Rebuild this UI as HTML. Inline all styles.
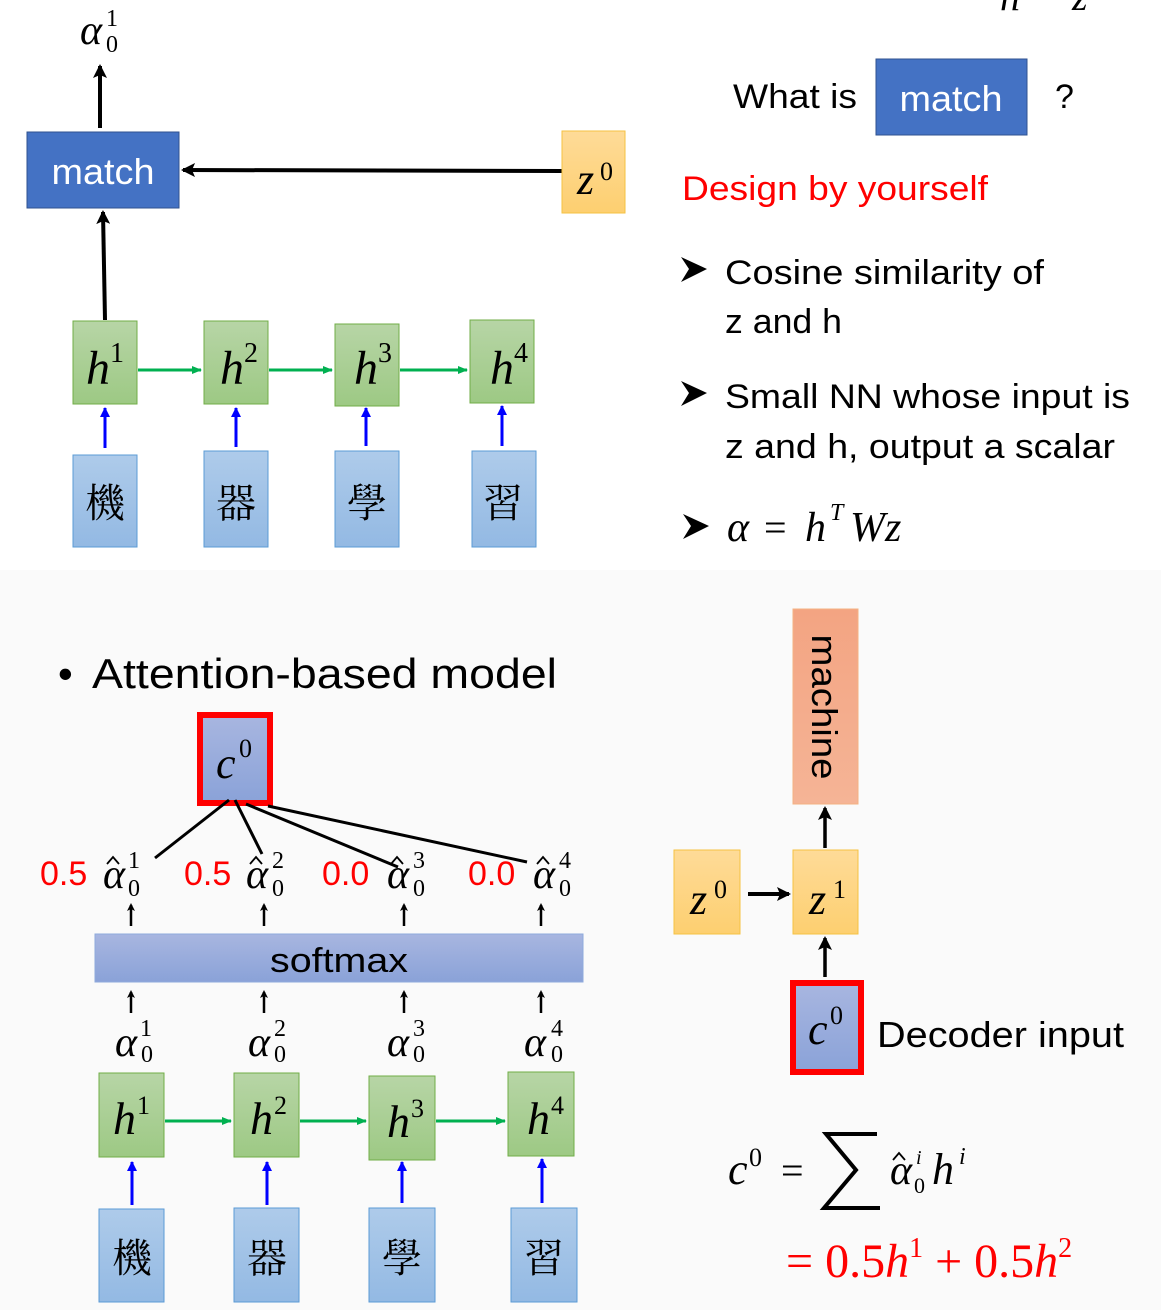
<!DOCTYPE html>
<html><head><meta charset="utf-8"><style>
html,body{margin:0;padding:0;background:#fff}
svg{display:block}
.s{font-family:"Liberation Sans","Noto Sans CJK TC",sans-serif}
.m{font-family:"Liberation Serif","DejaVu Serif",serif;font-style:italic}
.c{font-family:"Liberation Serif","Noto Serif CJK SC","Noto Sans CJK TC",serif}
</style></head><body>
<svg width="1161" height="1310" viewBox="0 0 1161 1310" xmlns="http://www.w3.org/2000/svg">
<defs>
<linearGradient id="g" x1="0" y1="0" x2="0" y2="1"><stop offset="0" stop-color="#b7d5a6"/><stop offset="1" stop-color="#9dc984"/></linearGradient>
<linearGradient id="b" x1="0" y1="0" x2="0" y2="1"><stop offset="0" stop-color="#aecbea"/><stop offset="1" stop-color="#93b9e3"/></linearGradient>
<linearGradient id="y" x1="0" y1="0" x2="0" y2="1"><stop offset="0" stop-color="#fedb98"/><stop offset="1" stop-color="#fdcf70"/></linearGradient>
<linearGradient id="p" x1="0" y1="0" x2="0" y2="1"><stop offset="0" stop-color="#a8b6e0"/><stop offset="1" stop-color="#8aa2d8"/></linearGradient>
<linearGradient id="o" x1="0" y1="0" x2="0" y2="1"><stop offset="0" stop-color="#f3a482"/><stop offset="1" stop-color="#f5b496"/></linearGradient>
<marker id="ak" markerWidth="8" markerHeight="8" refX="6" refY="4" orient="auto" markerUnits="userSpaceOnUse"><path d="M0,0 L8,4 L0,8 L2,4z" fill="#000"/></marker>
<marker id="ak2" markerWidth="14" markerHeight="14" refX="12" refY="7" orient="auto" markerUnits="userSpaceOnUse"><path d="M0,0 L14,7 L0,14 L3,7z" fill="#000"/></marker>
<marker id="ag" markerWidth="10" markerHeight="10" refX="9" refY="5" orient="auto" markerUnits="userSpaceOnUse"><path d="M0,1 L10,5 L0,9z" fill="#00b050"/></marker>
<marker id="ab" markerWidth="10" markerHeight="12" refX="9" refY="5" orient="auto" markerUnits="userSpaceOnUse"><path d="M0,0 L10,5 L0,10z" fill="#0000ff"/></marker>
<path id="bul" d="M0,0 L26,12 L0,25 L8,12z" fill="#000"/>
<path id="hat" d="M0,7 L6,0 L12,7" fill="none" stroke="#000" stroke-width="1.8"/>
</defs>
<rect x="0" y="570" width="1161" height="740" fill="#fafafa"/>

<text class="m" x="80" y="44" font-size="42">α</text><text class="c" x="106" y="26" font-size="24">1</text><text class="c" x="106" y="52" font-size="24">0</text>
<line x1="100" y1="128" x2="100" y2="66" stroke="#000" stroke-width="4" marker-end="url(#ak2)"/>
<rect x="27" y="132" width="152" height="76" fill="#4472c4" stroke="#2f528f"/>
<text class="s" x="103" y="184" font-size="36" fill="#fff" text-anchor="middle" textLength="103" lengthAdjust="spacingAndGlyphs">match</text>
<line x1="562" y1="171" x2="183" y2="170" stroke="#000" stroke-width="4" marker-end="url(#ak2)"/>
<rect x="562" y="131" width="63" height="82" fill="url(#y)" stroke="#f5c242"/>
<text class="m" x="577" y="194" font-size="44">z</text><text class="c" x="600" y="180" font-size="26">0</text>
<line x1="105" y1="320" x2="103" y2="212" stroke="#000" stroke-width="4" marker-end="url(#ak2)"/>

<g>
<rect x="73" y="321" width="64" height="83" fill="url(#g)" stroke="#70ad47"/>
<rect x="204" y="321" width="64" height="83" fill="url(#g)" stroke="#70ad47"/>
<rect x="335" y="324" width="64" height="82" fill="url(#g)" stroke="#70ad47"/>
<rect x="470" y="320" width="64" height="83" fill="url(#g)" stroke="#70ad47"/>
<text class="m" x="86" y="384" font-size="48">h</text><text class="c" x="110" y="362" font-size="28">1</text>
<text class="m" x="220" y="384" font-size="48">h</text><text class="c" x="244" y="362" font-size="28">2</text>
<text class="m" x="354" y="384" font-size="48">h</text><text class="c" x="378" y="362" font-size="28">3</text>
<text class="m" x="490" y="384" font-size="48">h</text><text class="c" x="514" y="362" font-size="28">4</text>
<line x1="138" y1="370" x2="201" y2="370" stroke="#00b050" stroke-width="3" marker-end="url(#ag)"/>
<line x1="269" y1="370" x2="332" y2="370" stroke="#00b050" stroke-width="3" marker-end="url(#ag)"/>
<line x1="400" y1="370" x2="467" y2="370" stroke="#00b050" stroke-width="3" marker-end="url(#ag)"/>
<line x1="105" y1="448" x2="105" y2="408" stroke="#0000ff" stroke-width="3" marker-end="url(#ab)"/>
<line x1="236" y1="447" x2="236" y2="408" stroke="#0000ff" stroke-width="3" marker-end="url(#ab)"/>
<line x1="366" y1="446" x2="366" y2="408" stroke="#0000ff" stroke-width="3" marker-end="url(#ab)"/>
<line x1="502" y1="446" x2="502" y2="406" stroke="#0000ff" stroke-width="3" marker-end="url(#ab)"/>
<rect x="73" y="455" width="64" height="92" fill="url(#b)" stroke="#5b9bd5"/>
<rect x="204" y="451" width="64" height="96" fill="url(#b)" stroke="#5b9bd5"/>
<rect x="335" y="451" width="64" height="96" fill="url(#b)" stroke="#5b9bd5"/>
<rect x="472" y="451" width="64" height="96" fill="url(#b)" stroke="#5b9bd5"/>
<text class="c" x="105" y="517" font-size="40" text-anchor="middle">機</text>
<text class="c" x="236" y="517" font-size="40" text-anchor="middle">器</text>
<text class="c" x="367" y="517" font-size="40" text-anchor="middle">學</text>
<text class="c" x="503" y="517" font-size="40" text-anchor="middle">習</text>
</g>

<text class="m" x="1000" y="10" font-size="40">h</text><text class="m" x="1072" y="10" font-size="40">z</text>
<text class="s" x="733" y="108" font-size="34" textLength="124" lengthAdjust="spacingAndGlyphs">What is</text>
<rect x="876" y="59" width="151" height="76" fill="#4472c4" stroke="#2f528f"/>
<text class="s" x="951" y="111" font-size="36" fill="#fff" text-anchor="middle" textLength="103" lengthAdjust="spacingAndGlyphs">match</text>
<text class="s" x="1055" y="108" font-size="34">?</text>
<text class="s" x="682" y="200" font-size="34" fill="#ff0000" textLength="306" lengthAdjust="spacingAndGlyphs">Design by yourself</text>
<g class="s" font-size="34">
<use href="#bul" x="681" y="257"/>
<text x="725" y="284" textLength="319" lengthAdjust="spacingAndGlyphs">Cosine similarity of</text>
<text x="725" y="333" textLength="117" lengthAdjust="spacingAndGlyphs">z and h</text>
<use href="#bul" x="681" y="381"/>
<text x="725" y="408" textLength="405" lengthAdjust="spacingAndGlyphs">Small NN whose input is</text>
<text x="725" y="458" textLength="390" lengthAdjust="spacingAndGlyphs">z and h, output a scalar</text>
<use href="#bul" x="683" y="514"/>
</g>
<text class="m" x="727" y="541" font-size="42">α</text><text class="c" x="764" y="541" font-size="40">=</text><text class="m" x="805" y="541" font-size="42">h</text><text class="m" x="830" y="520" font-size="24">T</text><text class="m" x="850" y="541" font-size="42">Wz</text>

<text class="s" x="58" y="688" font-size="42">•</text>
<text class="s" x="92" y="688" font-size="42" textLength="465" lengthAdjust="spacingAndGlyphs">Attention-based model</text>
<rect x="200" y="715" width="70" height="88" fill="url(#p)" stroke="#ff0000" stroke-width="6"/>
<text class="m" x="216" y="778" font-size="44">c</text><text class="c" x="239" y="757" font-size="26">0</text>
<g stroke="#000" stroke-width="3">
<line x1="155" y1="858" x2="229" y2="800"/>
<line x1="262" y1="854" x2="235" y2="800"/>
<line x1="398" y1="867" x2="246" y2="804"/>
<line x1="527" y1="862" x2="268" y2="806"/>
</g>
<g font-size="34">
<text class="s" x="40" y="885" fill="#ff0000">0.5</text>
<text class="s" x="184" y="885" fill="#ff0000">0.5</text>
<text class="s" x="322" y="885" fill="#ff0000">0.0</text>
<text class="s" x="468" y="885" fill="#ff0000">0.0</text>
</g>
<g class="m" font-size="42">
<text x="103" y="888">α</text><text x="246" y="888">α</text><text x="387" y="888">α</text><text x="533" y="888">α</text>
</g>
<use href="#hat" x="107" y="857"/><use href="#hat" x="250" y="857"/><use href="#hat" x="391" y="857"/><use href="#hat" x="537" y="857"/>
<g class="c" font-size="24">
<text x="128" y="868">1</text><text x="128" y="896">0</text>
<text x="272" y="868">2</text><text x="272" y="896">0</text>
<text x="413" y="868">3</text><text x="413" y="896">0</text>
<text x="559" y="868">4</text><text x="559" y="896">0</text>
</g>
<g stroke="#000" stroke-width="2.5">
<line x1="131" y1="926" x2="131" y2="905" marker-end="url(#ak)"/>
<line x1="264" y1="926" x2="264" y2="905" marker-end="url(#ak)"/>
<line x1="404" y1="926" x2="404" y2="905" marker-end="url(#ak)"/>
<line x1="541" y1="926" x2="541" y2="905" marker-end="url(#ak)"/>
<line x1="131" y1="1013" x2="131" y2="992" marker-end="url(#ak)"/>
<line x1="264" y1="1013" x2="264" y2="992" marker-end="url(#ak)"/>
<line x1="404" y1="1013" x2="404" y2="992" marker-end="url(#ak)"/>
<line x1="541" y1="1013" x2="541" y2="992" marker-end="url(#ak)"/>
</g>
<rect x="95" y="934" width="488" height="48" fill="url(#p)" stroke="#8faadc"/>
<text class="s" x="339" y="972" font-size="34" text-anchor="middle" textLength="138" lengthAdjust="spacingAndGlyphs">softmax</text>
<g class="m" font-size="42">
<text x="115" y="1056">α</text><text x="248" y="1056">α</text><text x="387" y="1056">α</text><text x="524" y="1056">α</text>
</g>
<g class="c" font-size="24">
<text x="140" y="1036">1</text><text x="141" y="1062">0</text>
<text x="274" y="1036">2</text><text x="274" y="1062">0</text>
<text x="413" y="1036">3</text><text x="413" y="1062">0</text>
<text x="551" y="1036">4</text><text x="551" y="1062">0</text>
</g>
<rect x="99" y="1073" width="65" height="84" fill="url(#g)" stroke="#70ad47"/>
<rect x="234" y="1073" width="65" height="84" fill="url(#g)" stroke="#70ad47"/>
<rect x="369" y="1076" width="66" height="84" fill="url(#g)" stroke="#70ad47"/>
<rect x="508" y="1072" width="66" height="84" fill="url(#g)" stroke="#70ad47"/>
<text class="m" x="113" y="1134" font-size="46">h</text><text class="c" x="137" y="1114" font-size="26">1</text>
<text class="m" x="250" y="1134" font-size="46">h</text><text class="c" x="274" y="1114" font-size="26">2</text>
<text class="m" x="387" y="1137" font-size="46">h</text><text class="c" x="411" y="1117" font-size="26">3</text>
<text class="m" x="527" y="1134" font-size="46">h</text><text class="c" x="551" y="1114" font-size="26">4</text>
<line x1="165" y1="1121" x2="231" y2="1121" stroke="#00b050" stroke-width="3" marker-end="url(#ag)"/>
<line x1="300" y1="1121" x2="366" y2="1121" stroke="#00b050" stroke-width="3" marker-end="url(#ag)"/>
<line x1="436" y1="1121" x2="505" y2="1121" stroke="#00b050" stroke-width="3" marker-end="url(#ag)"/>
<line x1="132" y1="1205" x2="132" y2="1162" stroke="#0000ff" stroke-width="3" marker-end="url(#ab)"/>
<line x1="267" y1="1205" x2="267" y2="1162" stroke="#0000ff" stroke-width="3" marker-end="url(#ab)"/>
<line x1="402" y1="1203" x2="402" y2="1162" stroke="#0000ff" stroke-width="3" marker-end="url(#ab)"/>
<line x1="542" y1="1203" x2="542" y2="1159" stroke="#0000ff" stroke-width="3" marker-end="url(#ab)"/>
<rect x="99" y="1209" width="65" height="93" fill="url(#b)" stroke="#5b9bd5"/>
<rect x="234" y="1208" width="65" height="94" fill="url(#b)" stroke="#5b9bd5"/>
<rect x="369" y="1208" width="66" height="94" fill="url(#b)" stroke="#5b9bd5"/>
<rect x="511" y="1208" width="66" height="94" fill="url(#b)" stroke="#5b9bd5"/>
<text class="c" x="132" y="1272" font-size="40" text-anchor="middle">機</text>
<text class="c" x="267" y="1272" font-size="40" text-anchor="middle">器</text>
<text class="c" x="402" y="1272" font-size="40" text-anchor="middle">學</text>
<text class="c" x="544" y="1272" font-size="40" text-anchor="middle">習</text>

<rect x="793" y="609" width="65" height="195" fill="url(#o)" stroke="#f4b183"/>
<text class="s" x="0" y="0" font-size="36" transform="translate(812,707) rotate(90)" text-anchor="middle" textLength="145" lengthAdjust="spacingAndGlyphs">machine</text>
<line x1="825" y1="848" x2="825" y2="808" stroke="#000" stroke-width="3.5" marker-end="url(#ak2)"/>
<rect x="674" y="850" width="66" height="84" fill="url(#y)" stroke="#f5c242"/>
<rect x="793" y="850" width="65" height="84" fill="url(#y)" stroke="#f5c242"/>
<text class="m" x="690" y="914" font-size="44">z</text><text class="c" x="714" y="898" font-size="26">0</text>
<text class="m" x="809" y="914" font-size="44">z</text><text class="c" x="833" y="898" font-size="26">1</text>
<line x1="748" y1="894" x2="789" y2="894" stroke="#000" stroke-width="4" marker-end="url(#ak2)"/>
<line x1="825" y1="977" x2="825" y2="938" stroke="#000" stroke-width="3.5" marker-end="url(#ak2)"/>
<rect x="793" y="983" width="68" height="89" fill="url(#p)" stroke="#ff0000" stroke-width="6"/>
<text class="m" x="808" y="1044" font-size="44">c</text><text class="c" x="830" y="1024" font-size="26">0</text>
<text class="s" x="877" y="1047" font-size="36" textLength="247" lengthAdjust="spacingAndGlyphs">Decoder input</text>
<text class="m" x="728" y="1184" font-size="44">c</text><text class="c" x="749" y="1166" font-size="26">0</text>
<text class="c" x="781" y="1184" font-size="40">=</text>
<path d="M877,1134 L826,1134 L856,1170 L824,1208 L880,1208" fill="none" stroke="#000" stroke-width="4"/>
<text class="m" x="890" y="1184" font-size="42">α</text><use href="#hat" x="893" y="1153"/><text class="m" x="916" y="1164" font-size="20">i</text><text class="c" x="914" y="1193" font-size="22">0</text>
<text class="m" x="932" y="1184" font-size="44">h</text><text class="m" x="959" y="1164" font-size="24">i</text>
<text class="c" x="786" y="1277" font-size="48" fill="#ff0000">= 0.5<tspan font-style="italic">h</tspan><tspan font-size="28" dy="-20">1</tspan><tspan dy="20"> + 0.5</tspan><tspan font-style="italic">h</tspan><tspan font-size="28" dy="-20">2</tspan></text>
</svg>
</body></html>
